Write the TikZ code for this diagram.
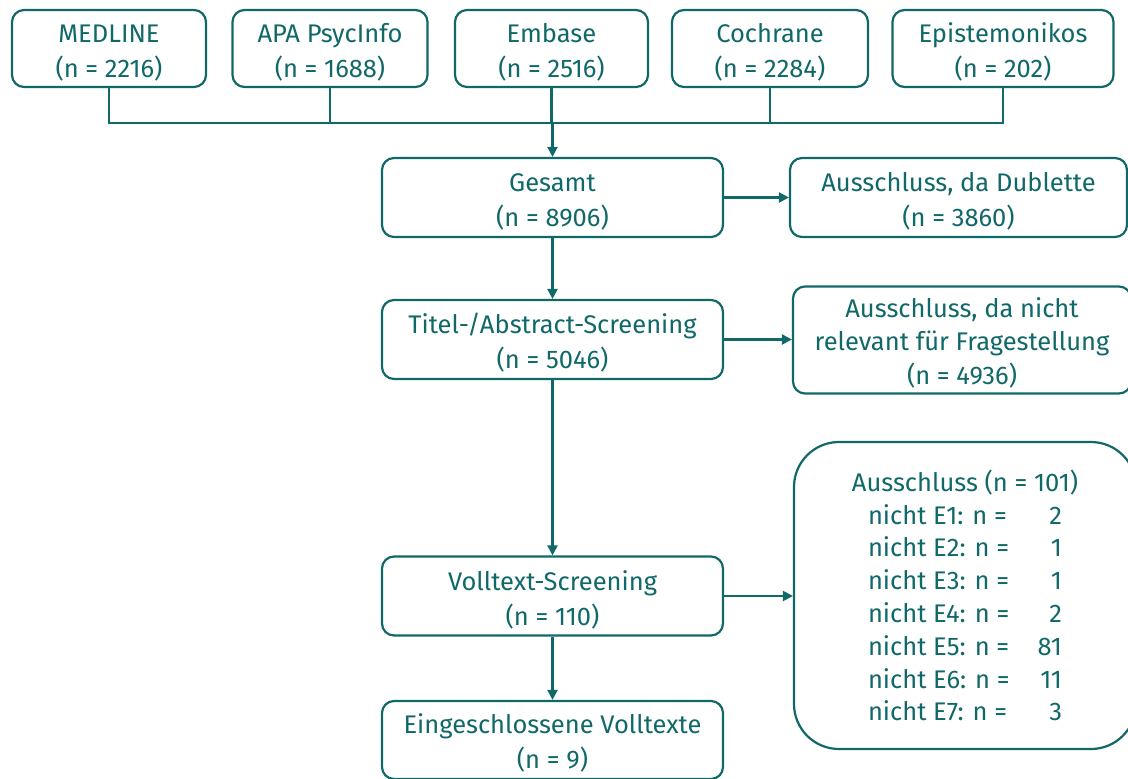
\documentclass[tikz,border=0pt]{standalone}
\usepackage{fontspec}
\setmainfont{Fira Sans}
\usetikzlibrary{arrows.meta}
\definecolor{teal1}{RGB}{16,104,104}
\newcommand{\tpad}[1]{\rule{0pt}{#1}}
\begin{document}
\begin{tikzpicture}[x=1pt,y=-1pt,
  box/.style={draw=teal1, line width=2.2pt, rounded corners=12pt, text=teal1,
    align=center, inner sep=0pt, font=\fontsize{25.5}{35}\selectfont},
  conn/.style={draw=teal1, line width=2.2pt},
  arr/.style={conn, -{Triangle[length=10pt,width=10pt]}}]
\useasboundingbox (0,0) rectangle (1128,779);
\node[box, minimum width=194, minimum height=77] (med) at (109,48.5) {\tpad{26pt}MEDLINE\\(n = 2216)};
\node[box, minimum width=195, minimum height=77] (apa) at (330,48.5) {\tpad{26pt}APA PsycInfo\\(n = 1688)};
\node[box, minimum width=193, minimum height=77] (emb) at (551.5,48.5) {\tpad{26pt}Embase\\(n = 2516)};
\node[box, minimum width=196, minimum height=77] (coc) at (770,48.5) {\tpad{26pt}Cochrane\\(n = 2284)};
\node[box, minimum width=221, minimum height=77] (epi) at (1003,48.5) {\tpad{26pt}Epistemonikos\\(n = 202)};
\node[box, minimum width=341, minimum height=79] (ges) at (552.5,197.5) {\tpad{27pt}Gesamt\\(n = 8906)};
\node[box, minimum width=337, minimum height=79] (dub) at (958.5,197.5) {\tpad{27pt}Ausschluss, da Dublette\\(n = 3860)};
\node[box, minimum width=341, minimum height=79] (tit) at (552.5,339.5) {\tpad{27pt}Titel-/Abstract-Screening\\(n = 5046)};
\node[box, minimum width=338, minimum height=107, font=\fontsize{25.5}{33.5}\selectfont] (rel) at (962,340) {\tpad{25pt}Ausschluss, da nicht\\relevant für Fragestellung\\(n = 4936)};
\node[box, minimum width=341, minimum height=79] (vol) at (552.5,596) {\tpad{27pt}Volltext-Screening\\(n = 110)};
\node[box, minimum width=341, minimum height=78] (ein) at (552.5,740) {\tpad{26pt}Eingeschlossene Volltexte\\(n = 9)};
\node[box, rounded corners=45pt, minimum width=342, minimum height=307, font=\fontsize{25.5}{32.8}\selectfont] (exc) at (965,595.5) {Ausschluss (n = 101)\\
\hbox to 194pt{nicht E1: n =\hfill 2}\\
\hbox to 194pt{nicht E2: n =\hfill 1}\\
\hbox to 194pt{nicht E3: n =\hfill 1}\\
\hbox to 194pt{nicht E4: n =\hfill 2}\\
\hbox to 194pt{nicht E5: n =\hfill 81}\\
\hbox to 194pt{nicht E6: n =\hfill 11}\\
\hbox to 194pt{nicht E7: n =\hfill 3}};
\coordinate (jun) at (552.5,123);
\draw[conn] (med.south) |- (jun);
\draw[conn] (apa.south) |- (jun);
\draw[conn] (emb.south) -- (emb.south |- jun);
\draw[conn] (coc.south) |- (jun);
\draw[conn] (epi.south) |- (jun);
\draw[arr] (jun) -- (ges.north);
\draw[arr] (ges.east) -- (ges.east -| dub.west);
\draw[arr] (ges.south) -- (tit.north);
\draw[arr] (tit.east) -- (tit.east -| rel.west);
\draw[arr] (tit.south) -- (vol.north);
\draw[arr] (vol.east) -- (vol.east -| exc.west);
\draw[arr] (vol.south) -- (ein.north);
\end{tikzpicture}
\end{document}
